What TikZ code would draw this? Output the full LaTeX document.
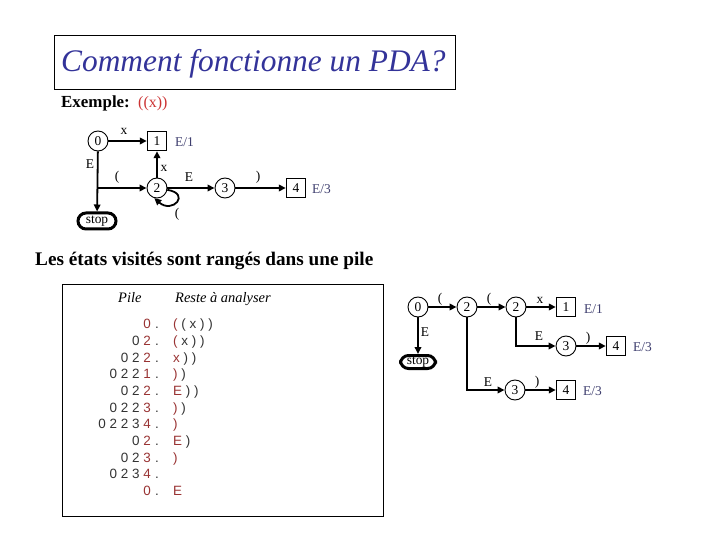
\documentclass[tikz,border=0pt]{standalone}
\usepackage{fontspec}
\setmainfont{Liberation Serif}
\setsansfont{Liberation Sans}
\usetikzlibrary{arrows.meta}
\definecolor{titleblue}{HTML}{333399}
\definecolor{lblue}{HTML}{3F3F6F}
\definecolor{redx}{HTML}{CC3333}
\definecolor{dred}{HTML}{993333}
\definecolor{gtext}{HTML}{333333}
\newcommand{\rd}[1]{\textcolor{dred}{#1}}
\begin{document}
\begin{tikzpicture}[x=1bp,y=-1bp,
  lab/.style={font=\fontsize{13.5}{15}\selectfont, inner sep=0pt},
  elab/.style={font=\fontsize{13.5}{15}\selectfont, inner sep=0pt, text=lblue, anchor=west},
  circ/.style={draw, circle, minimum size=20bp, inner sep=0pt, line width=0.9bp, font=\fontsize{13.5}{15}\selectfont},
  sq/.style={draw, rectangle, minimum size=19.5bp, inner sep=0pt, line width=0.9bp, font=\fontsize{13.5}{15}\selectfont},
  stopn/.style={draw, rectangle, rounded corners=8bp, line width=3bp, minimum width=38bp, minimum height=16bp, inner sep=0pt, font=\fontsize{13.5}{15}\selectfont},
  arr/.style={line width=1.8bp, -{Triangle[length=7bp,width=6.5bp]}},
  row/.style={font=\sffamily\fontsize{13.5}{15}\selectfont, inner sep=0pt, text=gtext},
  hdr/.style={font=\itshape\fontsize{14.5}{16}\selectfont, inner sep=0pt, anchor=base west}
]
\useasboundingbox (0,0) rectangle (720,540);

% title
\draw[line width=1bp] (54,36) rectangle (455,90);
\node[anchor=base west, inner sep=0pt, text=titleblue, font=\itshape\fontsize{31.5}{36}\selectfont] (title) at (61,72) {Comment fonctionne un PDA?};

% Exemple
\node[anchor=base west, inner sep=0pt, font=\bfseries\fontsize{17}{20}\selectfont] (ex) at (61,108) {Exemple:};
\node[anchor=base west, inner sep=0pt, text=redx, font=\fontsize{16}{18}\selectfont] (exw) at (138,108) {((x))};

% left graph
\node[circ] (c0) at (98,141) {0};
\node[sq] (b1) at (157,141) {1};
\node[elab] (e1) at (175,142) {E/1};
\node[circ] (c2) at (157,188) {2};
\node[circ] (c3) at (225,188) {3};
\node[sq] (b4) at (296,188) {4};
\node[elab] (e4) at (312,189) {E/3};
\node[stopn] (st) at (97,221) {stop};
\coordinate (j) at (98,188);

\draw[arr] (c0) -- (b1);
\draw[arr] (c2) -- (b1);
\draw[arr] (c0) -- (st);
\draw[arr] (j) -- (c2);
\draw[arr] (c2) -- (c3);
\draw[arr] (c3) -- (b4);
\draw[arr] (c2.-10) .. controls +(24,4) and +(18,16) .. (c2.-105);

\node[lab] (lx1) at (124,131) {x};
\node[lab] (lE1) at (90,164) {E};
\node[lab] (lp1) at (117,177) {(};
\node[lab] (lx2) at (164,168) {x};
\node[lab] (lE2) at (189,177) {E};
\node[lab] (lq1) at (258,177) {)};
\node[lab] (lp2) at (177,214) {(};

% heading
\node[anchor=base west, inner sep=0pt, font=\bfseries\fontsize{19.3}{22}\selectfont] (les) at (35,266) {Les états visités sont rangés dans une pile};

% table
\draw[line width=1bp] (62,284) rectangle (383,516);
\node[hdr] (hp) at (118,302) {Pile};
\node[hdr] (hr) at (175,302) {Reste à analyser};

\foreach \y/\s/\r [count=\i] in {
  328/{\rd{0}}/{\rd{(} ( x ) )},
  345/{0 \rd{2}}/{\rd{(} x ) )},
  362/{0 2 \rd{2}}/{\rd{x} ) )},
  378/{0 2 2 \rd{1}}/{\rd{)} )},
  395/{0 2 \rd{2}}/{\rd{E} ) )},
  412/{0 2 2 \rd{3}}/{\rd{)} )},
  428/{0 2 2 3 \rd{4}}/{\rd{)}},
  445/{0 \rd{2}}/{\rd{E} )},
  462/{0 2 \rd{3}}/{\rd{)}},
  478/{0 2 3 \rd{4}}/{},
  495/{\rd{0}}/{\rd{E}}}{
  \node[row, anchor=base east] (s\i) at (151,\y) {\s};
  \node[row, anchor=base west] (d\i) at (155,\y) {.};
  \node[row, anchor=base west] (r\i) at (173,\y) {\r};
}

% right graph
\node[circ] (q0) at (418,307) {0};
\node[circ] (q2a) at (467,307) {2};
\node[circ] (q2b) at (516,307) {2};
\node[sq] (p1) at (566,307) {1};
\node[elab] (f1) at (584,309) {E/1};
\node[stopn, minimum width=35bp, minimum height=13bp] (qst) at (418,362) {stop};
\node[circ] (q3a) at (566,346) {3};
\node[sq] (p4a) at (616,346) {4};
\node[elab] (f4a) at (633,347) {E/3};
\node[circ] (q3b) at (515,390) {3};
\node[sq] (p4b) at (566,390) {4};
\node[elab] (f4b) at (583,391) {E/3};

\draw[arr] (q0) -- (q2a);
\draw[arr] (q2a) -- (q2b);
\draw[arr] (q2b) -- (p1);
\draw[arr] (q0) -- (qst);
\draw[arr] (q2b) |- (q3a);
\draw[arr] (q3a) -- (p4a);
\draw[arr] (q2a) |- (q3b);
\draw[arr] (q3b) -- (p4b);

\node[lab] (m1) at (440,299) {(};
\node[lab] (m2) at (489,299) {(};
\node[lab] (m3) at (540,300) {x};
\node[lab] (m4) at (425,332) {E};
\node[lab] (m5) at (539,336) {E};
\node[lab] (m6) at (588,338) {)};
\node[lab] (m7) at (488,382) {E};
\node[lab] (m8) at (537,382) {)};
\end{tikzpicture}
\end{document}
